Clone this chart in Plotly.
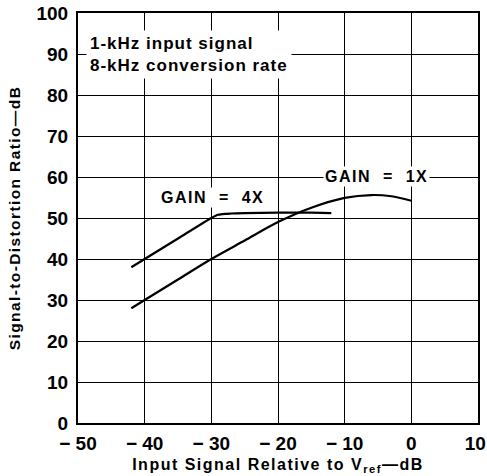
import plotly.graph_objects as go

# GAIN = 4X curve
x_4x = [-42, -40, -35, -30, -29, -27, -25, -20, -15, -12]
y_4x = [38, 40, 45, 50.0, 50.8, 51.1, 51.2, 51.3, 51.3, 51.2]

# GAIN = 1X curve
x_1x = [-42, -40, -35, -30, -25, -20, -15, -10, -6, -3, 0]
y_1x = [28, 30, 35, 40, 44.5, 49, 52.5, 54.9, 55.6, 55.3, 54.2]

xticks = [-50, -40, -30, -20, -10, 0, 10]
xticklabels = ["\u2212 50", "\u2212 40", "\u2212 30", "\u2212 20", "\u2212 10", "0", "10\u00a0"]
yticks = list(range(0, 101, 10))

FONT = "Liberation Sans"


def spaced(txt, px):
    return '<span style="letter-spacing:%spx">%s</span>' % (px, txt)


fig = go.Figure()
fig.add_trace(go.Scatter(x=x_4x, y=y_4x, mode="lines",
                         line=dict(color="black", width=2.2, shape="spline", smoothing=0.6),
                         showlegend=False))
fig.add_trace(go.Scatter(x=x_1x, y=y_1x, mode="lines",
                         line=dict(color="black", width=2.2, shape="spline", smoothing=0.8),
                         showlegend=False))

# labels with white background that cut the grid lines
fig.add_annotation(x=-29.8, y=55, text=spaced("<b>GAIN  =  4X</b>", 1.5), showarrow=False,
                   font=dict(family=FONT, size=16, color="black"), bgcolor="white")
fig.add_annotation(x=-5.2, y=60.2, text=spaced("<b>GAIN  =  1X</b>", 1.5), showarrow=False,
                   font=dict(family=FONT, size=16, color="black"), bgcolor="white")
fig.add_annotation(x=-48.8, y=90, xanchor="left", yanchor="middle", align="left",
                   text=spaced("<b>1-kHz input signal<br>8-kHz conversion rate</b>", 1),
                   showarrow=False,
                   font=dict(family=FONT, size=17, color="black"), bgcolor="white",
                   borderpad=3)

fig.update_xaxes(range=[-50, 10], tickvals=xticks, ticktext=xticklabels, automargin=False,
                 showgrid=True, gridcolor="black", gridwidth=1.3,
                 showline=True, linecolor="black", linewidth=2, mirror=True, zeroline=False,
                 ticks="", ticklabelstandoff=2, ticklabeloverflow="allow",
                 tickfont=dict(family=FONT, size=19, color="black", weight="bold"),
                 title=dict(text=spaced("<b>Input Signal Relative to V<sub>ref</sub>\u2014dB</b>", 1.5),
                            font=dict(family=FONT, size=16, color="black"), standoff=6))
fig.update_yaxes(range=[0, 100], tickvals=yticks, automargin=False,
                 showgrid=True, gridcolor="black", gridwidth=1.3,
                 showline=True, linecolor="black", linewidth=2, mirror=True, zeroline=False,
                 ticks="", ticklabelstandoff=4, ticklabeloverflow="allow",
                 tickfont=dict(family=FONT, size=19, color="black", weight="bold"),
                 title=dict(text=spaced("<b>Signal-to-Distortion Ratio\u2014dB</b>", 1.4),
                            font=dict(family=FONT, size=15.5, color="black"), standoff=12))

fig.update_layout(width=487, height=476, margin=dict(l=78, r=9, t=13, b=53),
                  plot_bgcolor="white", paper_bgcolor="white")

# drop the default 8 px page margin so the figure fills the window
fig.write_html("out.html", config={"displayModeBar": False},
               post_script="document.body.style.margin = '0';")
